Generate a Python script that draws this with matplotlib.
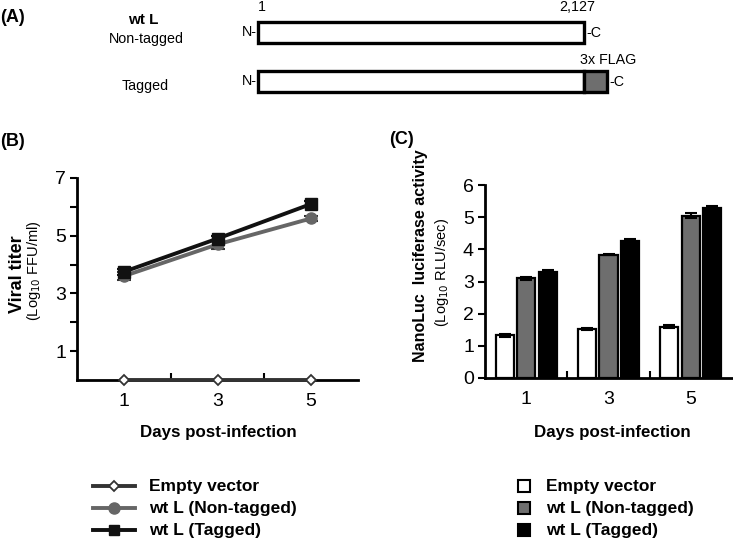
import numpy as np
import matplotlib
matplotlib.use("Agg")
import matplotlib.pyplot as plt
from matplotlib.patches import Rectangle

plt.rcParams["font.family"] = ["Liberation Sans", "DejaVu Sans"]

# ── data ───────────────────────────────────────────────────────────────────────
days = [1, 3, 5]
series = ["Empty vector", "wt L (Non-tagged)", "wt L (Tagged)"]

titer_empty = [0.0, 0.0, 0.0]
titer_nontag = [3.6, 4.7, 5.6]
titer_tag = [3.75, 4.9, 6.1]
titer_nontag_err = [0.15, 0.15, 0.1]
titer_tag_err = [0.1, 0.1, 0.12]

luc_empty = [1.33, 1.52, 1.6]
luc_nontag = [3.1, 3.83, 5.05]
luc_tag = [3.3, 4.27, 5.3]
luc_empty_err = [0.05, 0.02, 0.05]
luc_nontag_err = [0.04, 0.02, 0.08]
luc_tag_err = [0.05, 0.04, 0.04]

W, H = 733, 546
fig = plt.figure(figsize=(W / 100, H / 100), dpi=100)


def fx(px):
    return px / W


def fy(py):
    return 1 - py / H


# ── page-level axes (pixel coords) for schematic, labels, legends ─────────────
ax0 = fig.add_axes([0, 0, 1, 1], zorder=-1)
ax0.set_xlim(0, W)
ax0.set_ylim(H, 0)
ax0.axis("off")

# panel A
ax0.text(0, 17, "(A)", fontsize=13, fontweight="bold", va="center")
ax0.text(143, 20, "wt L", fontsize=11, fontweight="bold", ha="center", va="center")
ax0.text(146, 39, "Non-tagged", fontsize=10.3, ha="center", va="center")
ax0.text(145, 86, "Tagged", fontsize=10.3, ha="center", va="center")

ax0.add_patch(Rectangle((258, 22), 326, 21, fc="white", ec="black", lw=2.4))
ax0.text(257, 32, "N-", fontsize=10.3, ha="right", va="center")
ax0.text(586, 33, "-C", fontsize=10.3, ha="left", va="center")
ax0.text(262, 7, "1", fontsize=10.3, ha="center", va="center")
ax0.text(577, 7, "2,127", fontsize=10.3, ha="center", va="center")

ax0.add_patch(Rectangle((258, 71), 326, 21, fc="white", ec="black", lw=2.4))
ax0.add_patch(Rectangle((584, 71), 23, 21, fc="#6e6e6e", ec="black", lw=2.4))
ax0.text(257, 81, "N-", fontsize=10.3, ha="right", va="center")
ax0.text(609, 82, "-C", fontsize=10.3, ha="left", va="center")
ax0.text(608, 60, "3x FLAG", fontsize=10.3, ha="center", va="center")

ax0.text(0, 141, "(B)", fontsize=13, fontweight="bold", va="center")
ax0.text(389, 140, "(C)", fontsize=13, fontweight="bold", va="center")


def style_axes(ax):
    for s in ["top", "right"]:
        ax.spines[s].set_visible(False)
    for s in ["left", "bottom"]:
        ax.spines[s].set_linewidth(2)
    ax.tick_params(axis="y", direction="out", length=5, width=1.5, labelsize=14, pad=3)
    ax.tick_params(axis="x", which="major", length=0, labelsize=14, pad=9)
    ax.tick_params(axis="x", which="minor", direction="in", length=5, width=1.5)


# ── panel B: viral titer ───────────────────────────────────────────────────────
axb = fig.add_axes([fx(77), fy(380), fx(358 - 77), (380 - 178) / H])
axb.set_xlim(0, 6)
axb.set_ylim(0, 7)
style_axes(axb)
axb.set_yticks(range(1, 8))
axb.set_yticklabels(["1", "", "3", "", "5", "", "7"])
axb.set_xticks(days)
axb.set_xticks([2, 4], minor=True)

axb.errorbar(days, titer_tag, yerr=titer_tag_err, color="#111111", lw=2.8,
             marker="s", ms=8, capsize=5, capthick=1.5, elinewidth=1.5, zorder=4)
axb.errorbar(days, titer_nontag, yerr=titer_nontag_err, color="#666666", lw=2.8,
             marker="o", ms=8, capsize=5, capthick=1.5, elinewidth=1.5,
             ecolor="#333333", zorder=3)
axb.plot(days, titer_empty, color="#333333", lw=2.8, marker="D", ms=5.5,
         mfc="white", mec="#333333", mew=1.3, clip_on=False, zorder=5)

ax0.text(218, 432, "Days post-infection", fontsize=12.2, fontweight="bold",
         ha="center", va="center")
ax0.text(17, 274, "Viral titer", rotation=90, fontsize=13, fontweight="bold",
         ha="center", va="center")
ax0.text(34, 271, r"(Log$_{10}$ FFU/ml)", rotation=90, fontsize=10.5,
         ha="center", va="center")

# ── panel C: luciferase ────────────────────────────────────────────────────────
axc = fig.add_axes([fx(485), fy(378), fx(732 - 485), (378 - 185) / H])
x = np.arange(len(days))
bw = 0.22
off = 0.26
axc.set_xlim(-0.5, 2.5)
axc.set_ylim(0, 6)
style_axes(axc)
axc.set_yticks(range(0, 7))
axc.set_xticks(x)
axc.set_xticklabels([str(d) for d in days])
axc.set_xticks([0.5, 1.5], minor=True)

ekw = dict(lw=1.5, capsize=4, capthick=1.5, ecolor="black")
axc.bar(x - off, luc_empty, bw, yerr=luc_empty_err, color="white",
        edgecolor="black", lw=1.6, error_kw=ekw)
axc.bar(x, luc_nontag, bw, yerr=luc_nontag_err, color="#6e6e6e",
        edgecolor="black", lw=1.6, error_kw=ekw)
axc.bar(x + off, luc_tag, bw, yerr=luc_tag_err, color="black",
        edgecolor="black", lw=1.6, error_kw=ekw)

ax0.text(612, 432, "Days post-infection", fontsize=12.2, fontweight="bold",
         ha="center", va="center")
ax0.text(420, 256, "NanoLuc  luciferase activity", rotation=90, fontsize=11.5,
         fontweight="bold", ha="center", va="center")
ax0.text(442, 272, r"(Log$_{10}$ RLU/sec)", rotation=90, fontsize=10.5,
         ha="center", va="center")

# ── legends ────────────────────────────────────────────────────────────────────
rows = [486, 508, 530]
line_styles = [
    dict(color="#333333", marker="D", ms=5.5, mfc="white", mec="#333333", mew=1.3),
    dict(color="#666666", marker="o", ms=8, mfc="#666666", mec="#666666"),
    dict(color="#111111", marker="s", ms=7, mfc="#111111", mec="#111111"),
]
bar_colors = ["white", "#6e6e6e", "black"]
for name, yy, ls, bc in zip(series, rows, line_styles, bar_colors):
    ax0.plot([93, 135], [yy, yy], lw=2.8, **dict(ls, marker=None))
    ax0.plot([114], [yy], ls="none", **{k: v for k, v in ls.items() if k != "color"},
             color=ls["color"])
    ax0.text(149, yy, name, fontsize=12.5, fontweight="bold", va="center")
    ax0.add_patch(Rectangle((518, yy - 6), 12, 12, fc=bc, ec="black", lw=1.5))
    ax0.text(546, yy, name, fontsize=12.5, fontweight="bold", va="center")

fig.savefig("out.png", dpi=100)
